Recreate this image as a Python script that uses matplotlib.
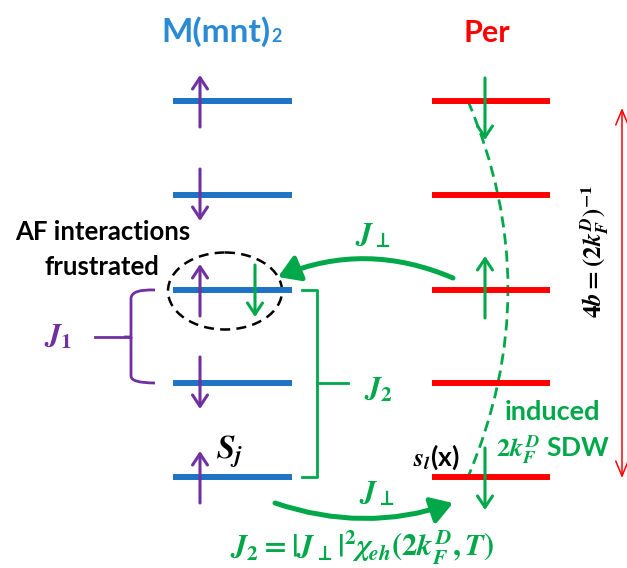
import numpy as np
import matplotlib.pyplot as plt
from matplotlib.patches import Ellipse, FancyArrowPatch, PathPatch
from matplotlib.path import Path

plt.rcParams['font.family'] = ['Lato', 'DejaVu Sans']
plt.rcParams['font.weight'] = 'bold'
plt.rcParams['mathtext.fontset'] = 'custom'
plt.rcParams['mathtext.it'] = 'STIXGeneral:italic:bold'
plt.rcParams['mathtext.rm'] = 'STIXGeneral:bold'
plt.rcParams['mathtext.bf'] = 'STIXGeneral:bold'
plt.rcParams['mathtext.sf'] = 'STIXGeneral'

# colours
BLUE = '#1f73c4'
TBLUE = '#2a8ad4'
RED = '#ff0000'
GREEN = '#00a84a'
PURPLE = '#7030a0'

# ladder levels (pixel rows of the chains)
level_y = [101, 195, 290, 383, 477]
mnt_x = (173, 292)
per_x = (432, 550)

# spins on M(mnt)2: +1 up, -1 down
mnt_spin = [1, -1, 1, -1, 1]
# induced spins on Per chain (level index, direction, shift)
per_level = [0, 2, 4]
per_spin = [-1, 1, -1]
per_shift = [8, -3, 2]

# dashed SDW envelope (x at top / middle / bottom)
sdw_y = [101, 289, 477]
sdw_x = [468, 548, 468]

JP = r'J_{\mathsf{\bot}}'


def spin(ax, x, yc, d, length, color, lw=2.2):
    ax.annotate('', xy=(x, yc - d * length / 2), xytext=(x, yc + d * length / 2),
                arrowprops=dict(arrowstyle='->,head_length=0.45,head_width=0.3',
                                lw=lw, color=color, shrinkA=0, shrinkB=0,
                                mutation_scale=18))


fig = plt.figure(figsize=(6.27, 5.68), dpi=100)
ax = fig.add_axes([0, 0, 1, 1])
ax.set_xlim(0, 627)
ax.set_ylim(568, 0)
ax.axis('off')

# chains
for y in level_y:
    ax.plot(mnt_x, [y, y], color=BLUE, lw=4.3, solid_capstyle='butt')
    ax.plot(per_x, [y, y], color=RED, lw=4.3, solid_capstyle='butt')

for y, d in zip(level_y, mnt_spin):
    spin(ax, 200, y, d, 52, PURPLE)

for i, d, s in zip(per_level, per_spin, per_shift):
    spin(ax, 485, level_y[i] + s, d, 62, GREEN)

# frustrated spin
spin(ax, 255, 291, -1, 52, GREEN)

# dashed envelope
env = Path(list(zip(sdw_x, sdw_y)), [Path.MOVETO, Path.CURVE3, Path.CURVE3])
ax.add_patch(PathPatch(env, fill=False, ec=GREEN, lw=2, ls=(0, (4, 2.2))))

# frustrated ellipse
ax.add_patch(Ellipse((225, 291), 114, 77, fill=False, ec='black', lw=1.8,
                     ls=(0, (4, 2.5))))

# J_perp arrows
for a, b, r in [((453, 278), (278, 277), 0.21), ((275, 503), (453, 503), 0.17)]:
    ax.add_patch(FancyArrowPatch(a, b, connectionstyle='arc3,rad=%s' % r,
                                 arrowstyle='-|>,head_length=0.8,head_width=0.5',
                                 mutation_scale=16, lw=3.6, color=GREEN,
                                 shrinkA=0, shrinkB=0))

# J2 bracket
ax.plot([302, 317, 317, 302], [290, 290, 477, 477], color=GREEN, lw=2)
ax.plot([317, 348], [383, 383], color=GREEN, lw=2)

# J1 brace
brace = Path([(155, 290), (132, 289), (131, 298), (131, 315), (131, 330), (131, 337), (124, 337),
              (131, 337), (131, 344), (131, 355), (131, 376), (131, 383), (155, 383)],
             [Path.MOVETO, Path.CURVE3, Path.CURVE3, Path.LINETO, Path.CURVE3, Path.CURVE3,
              Path.LINETO, Path.MOVETO, Path.CURVE3, Path.LINETO, Path.LINETO, Path.CURVE3,
              Path.CURVE3])
ax.add_patch(PathPatch(brace, fill=False, ec=PURPLE, lw=2))
ax.plot([95, 128], [337, 337], color=PURPLE, lw=2)

# lattice period arrow
ax.annotate('', xy=(622, 108), xytext=(622, 478),
            arrowprops=dict(arrowstyle='<->,head_length=0.6,head_width=0.25',
                            lw=1.1, color=RED, shrinkA=0, shrinkB=0, mutation_scale=18))

# texts
ax.text(270, 42, 'M(mnt)', color=TBLUE, fontsize=24, ha='right', va='baseline')
ax.text(271, 42, '2', color=TBLUE, fontsize=13, ha='left', va='baseline')
ax.text(487, 42, 'Per', color=RED, fontsize=22, ha='center', va='baseline')
ax.text(103, 232, 'AF interactions', color='black', fontsize=18.5, ha='center', va='center')
ax.text(102, 267, 'frustrated', color='black', fontsize=18.5, ha='center', va='center')
ax.text(58, 337, r'$J_1$', color=PURPLE, fontsize=22, ha='center', va='center')
ax.text(378, 390, r'$J_2$', color=GREEN, fontsize=22, ha='center', va='center')
ax.text(373, 236, '$%s$' % JP, color=GREEN, fontsize=22, ha='center', va='center')
ax.text(377, 494, '$%s$' % JP, color=GREEN, fontsize=22, ha='center', va='center')
ax.text(230, 452, r'$S_j$', color='black', fontsize=24, ha='center', va='center')
ax.text(436, 457, r'$s_l$(x)', color='black', fontsize=19, ha='center', va='center')
ax.text(553, 412, 'induced', color=GREEN, fontsize=19.5, ha='center', va='center')
ax.text(553, 450, r'$2k_F^D$ SDW', color=GREEN, fontsize=19, ha='center', va='center')
ax.text(595, 251, r'$4b=(2k_F^D)^{-1}$', color='black', fontsize=18, rotation=90,
        ha='center', va='center')
ax.text(362, 548, r'$J_2=|%s|^2\chi_{eh}(2k_F^D,T)$' % JP, color=GREEN, fontsize=22,
        ha='center', va='center')

fig.savefig('out.png', dpi=100)
